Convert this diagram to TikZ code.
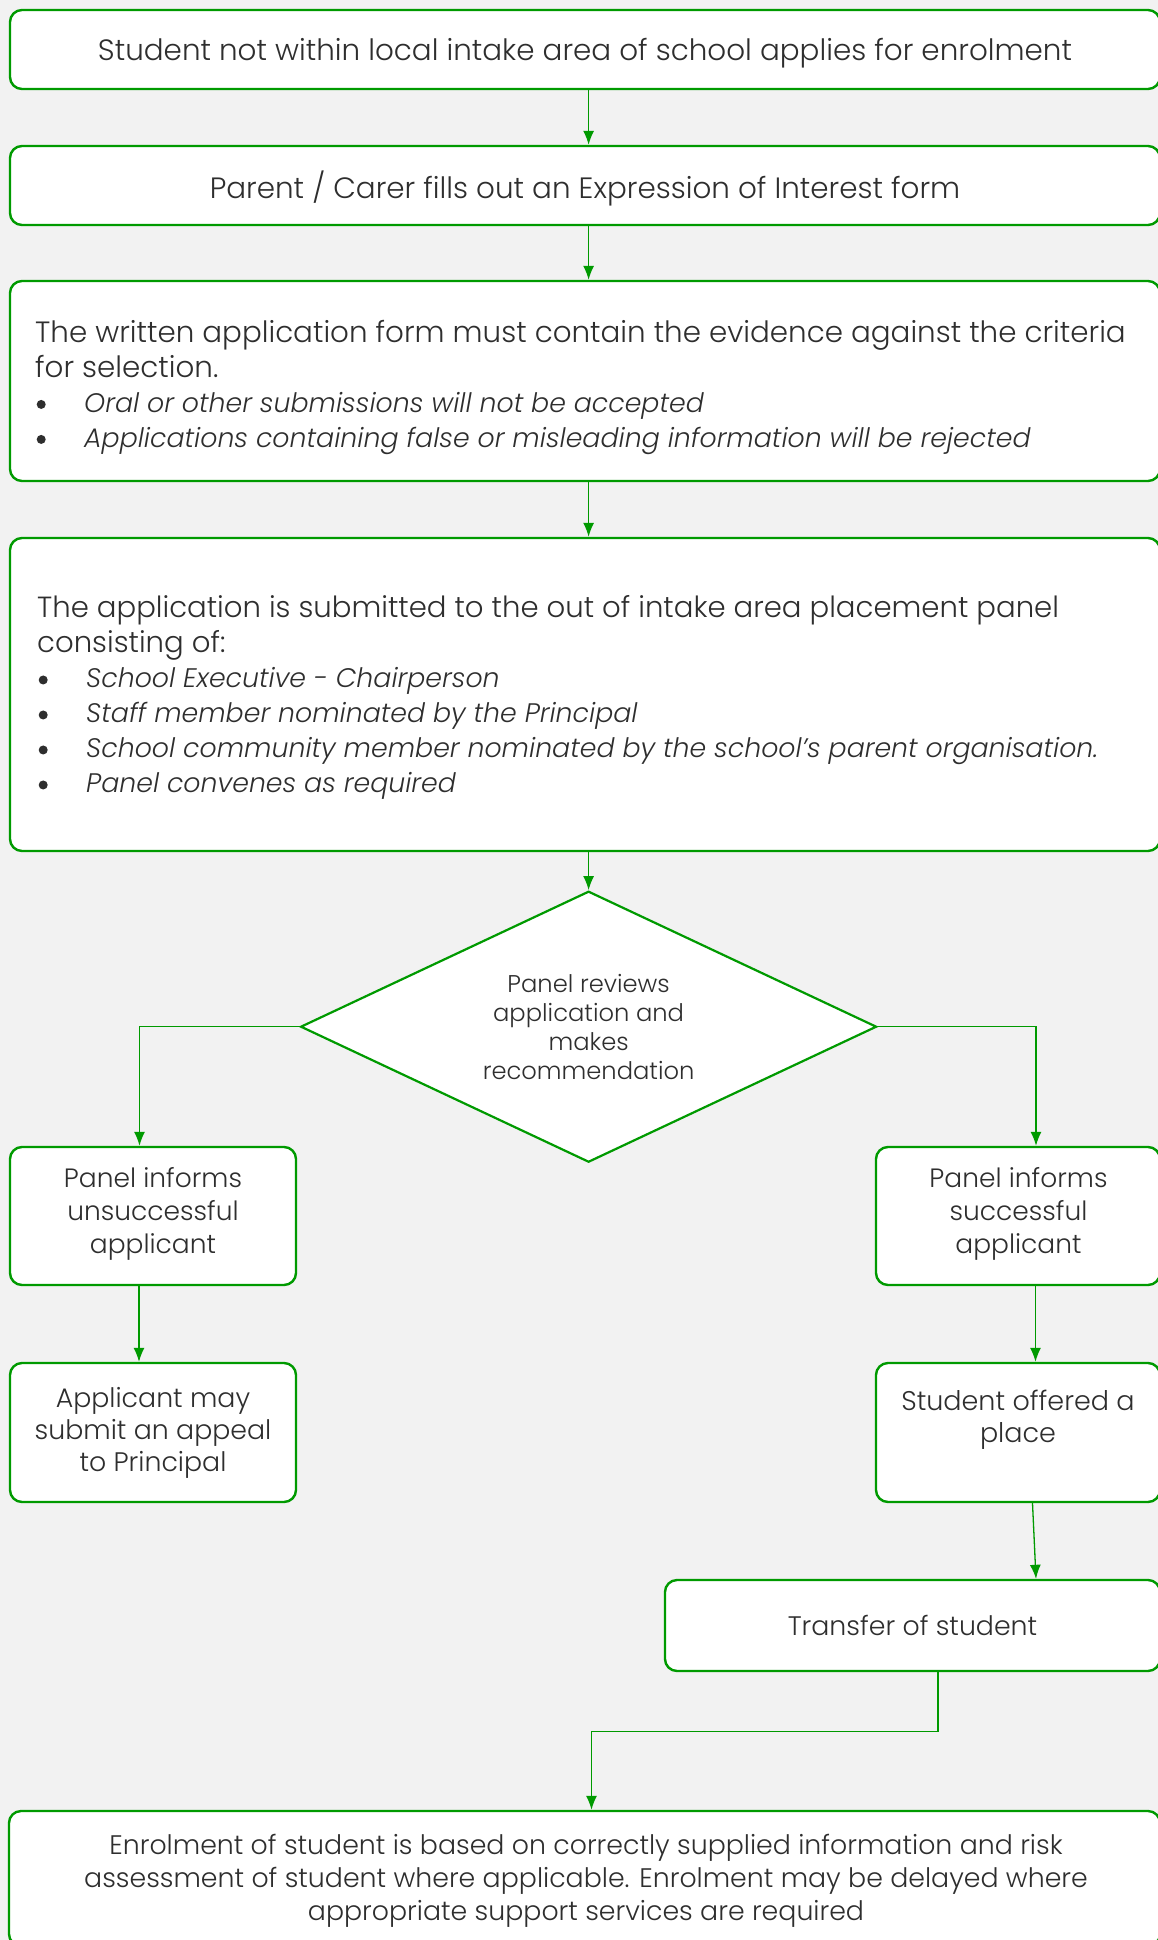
\documentclass[tikz,border=0pt]{standalone}
\usepackage{fontspec}
\setmainfont{Poppins}[UprightFont={* Light},ItalicFont={* Light Italic}]
\usetikzlibrary{shapes.geometric,arrows.meta}
\definecolor{gr}{HTML}{009A00}
\definecolor{bg}{HTML}{F2F2F2}
\definecolor{tx}{HTML}{2E2E2E}
\newcommand\bdot{\raisebox{3.1pt}{\tikz\fill[tx] (0,0) circle (4.5pt);}}
\newcommand\bitem[1]{\makebox[49pt][l]{\hspace{1.5pt}\bdot}{\fontsize{26.8}{35}\selectfont\textit{#1}}}
\tikzset{
  box/.style={draw=gr, line width=2.4pt, rounded corners=12pt, fill=white, text=tx,
    inner sep=0pt, align=center, font=\fontsize{26.5}{32.5}\selectfont},
  lbl/.style={text=tx, inner sep=0pt, align=center},
  dia/.style={diamond, aspect=2.12, draw=gr, line width=2.2pt, fill=white, text=tx, inner sep=0pt,
    minimum width=576pt, minimum height=271pt, align=center, font=\fontsize{24.2}{29}\selectfont},
  arr/.style={draw=gr, line width=1.3pt, -{Latex[length=14pt,width=11pt]}},
}
\begin{document}
\begin{tikzpicture}[x=1pt,y=-1pt]
\useasboundingbox[fill=bg] (0,0) rectangle (1158,1940);
% boxes
\node[box, minimum width=1150pt, minimum height=79pt] (b1) at (585,49.5) {};
\node[lbl, font=\fontsize{29.4}{35}\selectfont] (b1t) at (585,53.2)
  {Student not within local intake area of school applies for enrolment};
\node[box, minimum width=1150pt, minimum height=79pt] (b2) at (585,185.5) {};
\node[lbl, font=\fontsize{29.4}{35}\selectfont] (b2t) at (585,188)
  {Parent / Carer fills out an Expression of Interest form};
\node[box, minimum width=1150pt, minimum height=200pt] (b3) at (585,381) {};
\node[lbl, anchor=west, align=left, font=\fontsize{29.35}{35}\selectfont] (b3t) at (35,387)
  {The written application form must contain the evidence against the criteria\\
   for selection.\\
   \bitem{Oral or other submissions will not be accepted}\\
   \bitem{Applications containing false or misleading information will be rejected}};
\node[box, minimum width=1150pt, minimum height=313pt] (b4) at (585,694.5) {};
\node[lbl, anchor=west, align=left, font=\fontsize{29.15}{35}\selectfont] (b4t) at (37,697.5)
  {The application is submitted to the out of intake area placement panel\\
   consisting of:\\
   \bitem{School Executive - Chairperson}\\
   \bitem{Staff member nominated by the Principal}\\
   \bitem{School community member nominated by the school’s parent organisation.}\\
   \bitem{Panel convenes as required}};
\node[dia] (dm) at (588.6,1026.7) {Panel reviews\\application and\\makes\\recommendation};
\node[box, minimum width=286pt, minimum height=138pt] (ul) at (153,1216) {};
\node[lbl, font=\fontsize{26.5}{32.8}\selectfont] (ult) at (153,1214)
  {Panel informs\\unsuccessful\\applicant};
\node[box, minimum width=284pt, minimum height=138pt] (ur) at (1018,1216) {};
\node[lbl, font=\fontsize{26.5}{32.8}\selectfont] (urt) at (1018.5,1214)
  {Panel informs\\successful\\applicant};
\node[box, minimum width=286pt, minimum height=139pt, font=\fontsize{26.8}{32}\selectfont] (ll) at (153,1432.5)
  {Applicant may\\submit an appeal\\to Principal};
\node[box, minimum width=284pt, minimum height=139pt, font=\fontsize{27}{32}\selectfont] (lr) at (1018,1432.5)
  {Student offered a\\place\\\mbox{}};
\node[box, minimum width=495pt, minimum height=91pt, font=\fontsize{26.8}{32}\selectfont] (tr) at (912.5,1625.5)
  {Transfer of student};
\node[box, minimum width=1151pt, minimum height=135pt] (en) at (584.5,1878.5) {};
\node[lbl, font=\fontsize{26.8}{32.8}\selectfont] (ent) at (586,1881)
  {Enrolment of student is based on correctly supplied information and risk\\
   assessment of student where applicable. Enrolment may be delayed where\\
   appropriate support services are required};
% connectors
\draw[arr] (b1.south -| dm.north) -- (b2.north -| dm.north);
\draw[arr] (b2.south -| dm.north) -- (b3.north -| dm.north);
\draw[arr] (b3.south -| dm.north) -- (b4.north -| dm.north);
\draw[arr] (b4.south -| dm.north) -- (dm.north);
\draw[arr] (dm.west) -| ([xshift=-13.5pt]ul.north);
\draw[arr] (dm.east) -| ([xshift=18pt]ur.north);
\draw[arr] ([xshift=-14pt]ul.south) -- ([xshift=-14pt]ll.north);
\draw[arr] ([xshift=17.5pt]ur.south) -- ([xshift=17.5pt]lr.north);
\draw[arr] ([xshift=14.5pt]lr.south) -- ([xshift=123.5pt]tr.north);
\coordinate (bend) at (938,1731.6);
\draw[arr] ([xshift=25.5pt]tr.south) -- (bend) -| ([xshift=7pt]en.north);
\end{tikzpicture}
\end{document}
